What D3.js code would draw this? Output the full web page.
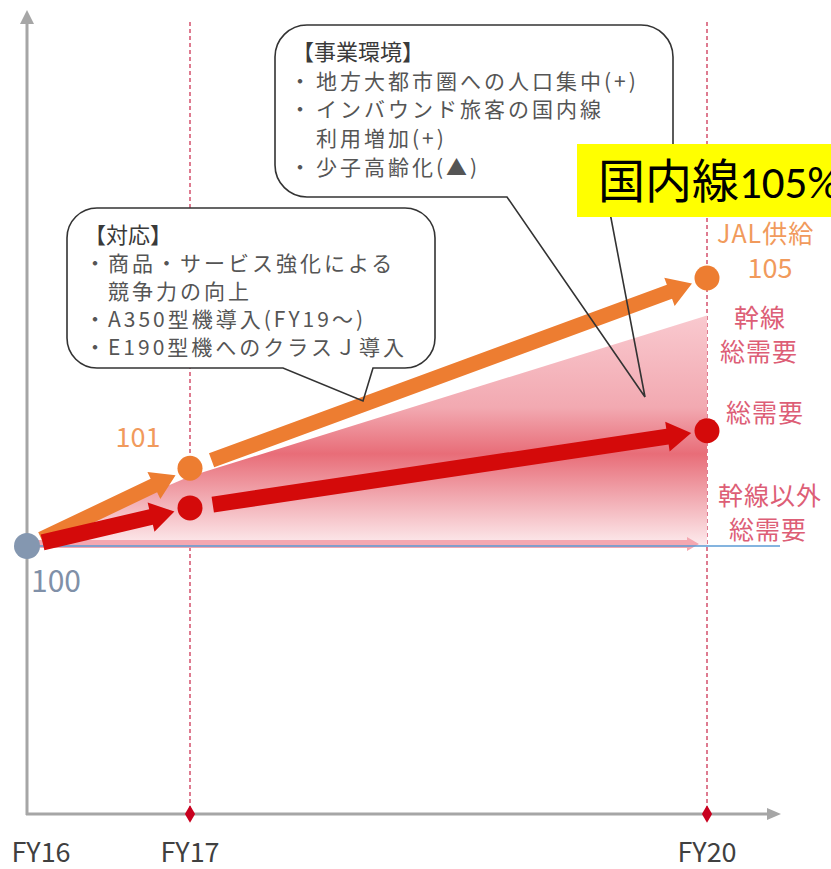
<!DOCTYPE html>
<html>
<head>
<meta charset="utf-8">
<script src="https://cdn.jsdelivr.net/npm/d3@7"></script>
<style>
  body { margin: 0; background: #fff; }
  text { font-family: "Noto Sans CJK JP", "Noto Sans", sans-serif; }
</style>
</head>
<body>
<script>
  var width = 831;
  var height = 869;

  // fiscal years on the x axis
  var years = ["FY16", "FY17", "FY20"];
  var yearNum = [16, 17, 20];

  // index values (FY16 = 100)
  var jalSupply = [100, 101.45, 105];
  var totalDemand = [100, 100.71, 102.15];
  var trunkDemand = [100, 101.3, 104.3];
  var otherDemand = [100, 100, 100];
  var pointLabels = ["100", "101", "105"];

  var noteEnv = ["【事業環境】", "・地方大都市圏への人口集中(+)", "・インバウンド旅客の国内線", "　利用増加(+)", "・少子高齢化(▲)"];
  var noteAction = ["【対応】", "・商品・サービス強化による", "　競争力の向上", "・A350型機導入(FY19〜)", "・E190型機へのクラスＪ導入"];
  var demandLabels = ["幹線", "総需要", "総需要", "幹線以外", "総需要"];

  var orange = "#ed7d31";
  var red = "#d40a0a";
  var axisGrey = "#a6a6a6";

  var x = d3.scaleLinear().domain([16, 17, 20]).range([27, 190, 707]);
  var y = d3.scaleLinear().domain([95, 110]).range([814, 10]);

  var svg = d3.select("body").append("svg")
    .attr("width", width)
    .attr("height", height);

  var defs = svg.append("defs");
  var grad = defs.append("linearGradient")
    .attr("id", "areaGrad")
    .attr("gradientUnits", "userSpaceOnUse")
    .attr("x1", 0).attr("x2", 0)
    .attr("y1", y(104.3)).attr("y2", y(100));
  [[0, "#f9c9cf"], [0.4, "#f2a9b1"], [0.6, "#e86d78"], [0.8, "#f2adb4"], [1, "#fdecee"]].forEach(function(s) {
    grad.append("stop").attr("offset", s[0]).attr("stop-color", s[1]);
  });

  // dashed year guides
  [17, 20].forEach(function(yr) {
    svg.append("line")
      .attr("x1", x(yr)).attr("x2", x(yr))
      .attr("y1", 22).attr("y2", y(95))
      .attr("stroke", "#d4506c")
      .attr("stroke-width", 1.5)
      .attr("stroke-dasharray", "4,3");
  });

  // axes
  svg.append("line").attr("x1", x(16)).attr("x2", x(16)).attr("y1", y(95) + 1).attr("y2", 22)
    .attr("stroke", axisGrey).attr("stroke-width", 3);
  svg.append("path").attr("d", "M" + x(16) + ",10 l-7,14 h14 z").attr("fill", axisGrey);
  svg.append("line").attr("x1", x(16) - 1).attr("x2", 768).attr("y1", y(95)).attr("y2", y(95))
    .attr("stroke", axisGrey).attr("stroke-width", 3);
  svg.append("path").attr("d", "M781," + y(95) + " l-14,-6 v12 z").attr("fill", axisGrey);

  [17, 20].forEach(function(yr) {
    svg.append("path")
      .attr("d", d3.symbol().type(d3.symbolDiamond).size(90))
      .attr("transform", "translate(" + x(yr) + "," + y(95) + ")")
      .attr("fill", "#c8001e");
  });

  svg.selectAll(".year").data(years).enter().append("text")
    .attr("x", function(d, i) { return i === 0 ? x(yearNum[i]) + 14 : x(yearNum[i]); })
    .attr("y", 862)
    .attr("text-anchor", "middle")
    .attr("font-size", 27)
    .attr("fill", "#404040")
    .text(function(d) { return d; });

  // trunk demand area
  var area = d3.area()
    .x(function(d, i) { return x(yearNum[i]); })
    .y0(function(d, i) { return y(otherDemand[i]); })
    .y1(function(d) { return y(d); });
  svg.append("path").datum(trunkDemand).attr("d", area).attr("fill", "url(#areaGrad)");

  function arrowPts(x1, y1, x2, y2, w, hl, hw) {
    var dx = x2 - x1, dy = y2 - y1, L = Math.hypot(dx, dy);
    var ux = dx / L, uy = dy / L, nx = -uy, ny = ux;
    var bx = x2 - ux * hl, by = y2 - uy * hl;
    return [[x1 + nx * w / 2, y1 + ny * w / 2], [bx + nx * w / 2, by + ny * w / 2], [bx + nx * hw / 2, by + ny * hw / 2],
      [x2, y2], [bx - nx * hw / 2, by - ny * hw / 2], [bx - nx * w / 2, by - ny * w / 2], [x1 - nx * w / 2, y1 - ny * w / 2]];
  }

  function drawArrow(x1, y1, x2, y2, w, hl, hw, color) {
    svg.append("polygon")
      .attr("points", arrowPts(x1, y1, x2, y2, w, hl, hw).map(function(p) { return p.join(","); }).join(" "))
      .attr("fill", color);
  }

  // other-than-trunk demand (flat)
  drawArrow(x(16), y(otherDemand[0]) - 2, x(20) - 8, y(otherDemand[2]) - 2, 8, 12, 14, "#f4a7b0");
  svg.append("line").attr("x1", x(16)).attr("x2", 780).attr("y1", y(100)).attr("y2", y(100))
    .attr("stroke", "#5b9bd5").attr("stroke-width", 1.5);

  function seriesArrows(vals, color, w) {
    for (var i = 0; i < vals.length - 1; i++) {
      var x1 = x(yearNum[i]), y1 = y(vals[i]), x2 = x(yearNum[i + 1]), y2 = y(vals[i + 1]);
      var L = Math.hypot(x2 - x1, y2 - y1), ux = (x2 - x1) / L, uy = (y2 - y1) / L;
      var g0 = i === 0 ? 16 : 23, g1 = 16;
      drawArrow(x1 + ux * g0, y1 + uy * g0, x2 - ux * g1, y2 - uy * g1, w, 24, 30, color);
    }
  }
  seriesArrows(jalSupply, orange, 15);
  seriesArrows(totalDemand, red, 16);

  svg.selectAll(".sup").data(jalSupply.slice(1)).enter().append("circle")
    .attr("cx", function(d, i) { return x(yearNum[i + 1]); })
    .attr("cy", function(d) { return y(d); })
    .attr("r", 12.5).attr("fill", orange);
  svg.selectAll(".dem").data(totalDemand.slice(1)).enter().append("circle")
    .attr("cx", function(d, i) { return x(yearNum[i + 1]); })
    .attr("cy", function(d) { return y(d); })
    .attr("r", 12.5).attr("fill", red);
  svg.append("circle").attr("cx", x(16)).attr("cy", y(100)).attr("r", 13).attr("fill", "#8497b0");

  // value labels
  svg.append("text").attr("x", 56).attr("y", 592).attr("text-anchor", "middle")
    .attr("font-family", "'Noto Sans', sans-serif").attr("font-size", 30).attr("fill", "#8090a8").text(pointLabels[0]);
  svg.append("text").attr("x", 138).attr("y", 447).attr("text-anchor", "middle")
    .attr("font-family", "'Noto Sans', sans-serif").attr("font-size", 27).attr("fill", "#f19a5c").text(pointLabels[1]);
  svg.append("text").attr("x", 770).attr("y", 278).attr("text-anchor", "middle")
    .attr("font-family", "'Noto Sans', sans-serif").attr("font-size", 27).attr("fill", "#f19a5c").text(pointLabels[2]);
  svg.append("text").attr("x", 717).attr("y", 243)
    .attr("font-size", 25).attr("letter-spacing", 1).attr("fill", "#f19a5c").text("JAL供給");

  var labelPos = [[760, 327], [759, 361], [765, 422], [770, 505], [768, 539]];
  svg.selectAll(".rl").data(demandLabels).enter().append("text")
    .attr("x", function(d, i) { return labelPos[i][0]; })
    .attr("y", function(d, i) { return labelPos[i][1]; })
    .attr("text-anchor", "middle")
    .attr("font-size", 25)
    .attr("letter-spacing", 1)
    .attr("fill", "#dd5e76")
    .text(function(d) { return d; });

  // callouts
  function callout(bx, by, bw, bh, r, t1, t2, tipX, tipY, lines, lineH, dotX, textX) {
    svg.append("rect").attr("x", bx).attr("y", by).attr("width", bw).attr("height", bh)
      .attr("rx", r).attr("fill", "#fff");
    var p = d3.path();
    p.moveTo(bx + r, by);
    p.lineTo(bx + bw - r, by);
    p.arcTo(bx + bw, by, bx + bw, by + r, r);
    p.lineTo(bx + bw, by + bh - r);
    p.arcTo(bx + bw, by + bh, bx + bw - r, by + bh, r);
    p.lineTo(t2, by + bh);
    p.lineTo(tipX, tipY);
    p.lineTo(t1, by + bh);
    p.lineTo(bx + r, by + bh);
    p.arcTo(bx, by + bh, bx, by + bh - r, r);
    p.lineTo(bx, by + r);
    p.arcTo(bx, by, bx + r, by, r);
    p.closePath();
    svg.append("path").attr("d", p.toString()).attr("fill", "none")
      .attr("stroke", "#333").attr("stroke-width", 1.6);

    lines.forEach(function(s, i) {
      var yy = by + 35 + i * lineH;
      if (i === 0) {
        svg.append("text").attr("x", textX - 24).attr("y", yy).attr("font-size", 22)
          .attr("fill", "#3a3a3a").text(s);
        return;
      }
      if (s.charAt(0) === "・") {
        svg.append("text").attr("x", dotX).attr("y", yy).attr("text-anchor", "middle")
          .attr("font-size", 21).attr("fill", "#555").text("・");
      }
      svg.append("text").attr("x", textX).attr("y", yy).attr("font-size", 21)
        .attr("letter-spacing", 3).attr("fill", "#555").text(s.slice(1));
    });
  }

  callout(275, 25, 398, 172, 32, 507, 607, 645, 397, noteEnv, 28.7, 300, 316);
  callout(67, 208, 368, 160, 30, 283, 373, 363, 401, noteAction, 28, 95, 108);

  // highlight box
  svg.append("rect").attr("x", 577).attr("y", 144).attr("width", 260).attr("height", 73).attr("fill", "#ffff00");
  var hl = svg.append("text").attr("x", 598).attr("y", 198).attr("font-size", 47).attr("fill", "#000");
  hl.append("tspan").text("国内線");
  hl.append("tspan").attr("font-family", "Carlito, 'Liberation Sans', sans-serif").attr("font-size", 45).text("105%");
</script>
</body>
</html>
